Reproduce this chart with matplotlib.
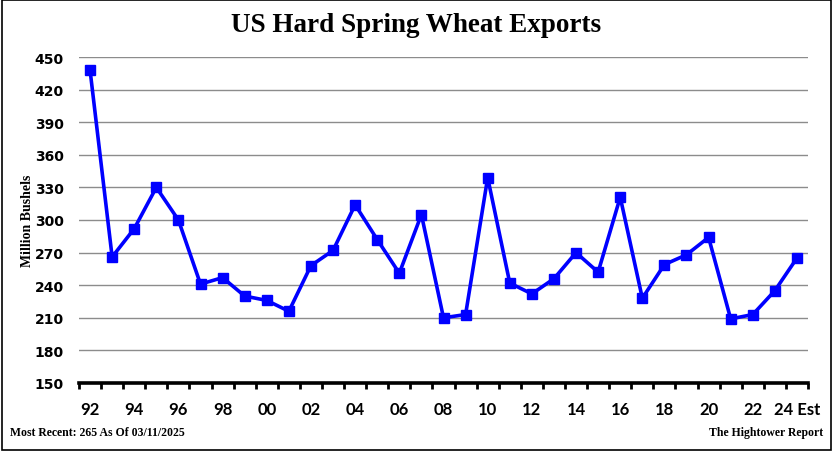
import matplotlib
matplotlib.use("Agg")
import matplotlib.pyplot as plt
from matplotlib.patches import Rectangle
from matplotlib.ticker import FixedLocator

# marketing years 1992 .. 2024 (2024 estimate)
years = ['92', '93', '94', '95', '96', '97', '98', '99', '00', '01', '02',
         '03', '04', '05', '06', '07', '08', '09', '10', '11', '12', '13',
         '14', '15', '16', '17', '18', '19', '20', '21', '22', '23', '24 Est']
exports = [438, 266, 292, 330, 300, 241, 247, 230, 226, 216, 258,
           272, 314, 282, 251, 305, 210, 213, 339, 242, 232, 246,
           270, 252, 321, 228, 259, 268, 284, 209, 213, 235, 265]
yticks = [150, 180, 210, 240, 270, 300, 330, 360, 390, 420, 450]

fig = plt.figure(figsize=(8.33, 4.52), dpi=100)
ax = fig.add_axes([79 / 833, 68 / 452, 729 / 833, 326 / 452])

x = list(range(len(years)))
ax.plot(x, exports, color='#0000FF', lw=2.6, marker='s', ms=6.5,
        markeredgecolor='#0000FF', zorder=3, clip_on=False)

ax.set_xlim(-0.5, len(years) - 0.5)
ax.set_ylim(150, 450)
ax.set_yticks(yticks)
ax.yaxis.grid(True, color='#8c8c8c', lw=1.0)
ax.set_axisbelow(True)

for s in ['top', 'right', 'left']:
    ax.spines[s].set_visible(False)
ax.spines['bottom'].set_linewidth(2.6)
ax.spines['bottom'].set_color('black')

ax.set_xticks(x[::2])
ax.set_xticklabels([years[i] for i in x[::2]], fontsize=12,
                   fontweight='bold', family='Lato')
ax.xaxis.set_minor_locator(FixedLocator([i - 0.5 for i in range(len(years) + 1)]))
ax.tick_params(axis='x', which='major', length=0, pad=13)
ax.tick_params(axis='x', which='minor', length=4, width=2, direction='out', color='black')
ax.tick_params(axis='y', length=0, pad=11, labelsize=10)
for lab in ax.get_yticklabels():
    lab.set_fontweight('bold')
    lab.set_family('DejaVu Sans')

ax.set_ylabel('Million Bushels', family='Liberation Serif', fontweight='bold',
              fontsize=10)
ax.yaxis.set_label_coords(-45 / 729, 0.5)

fig.text(0.5, 1 - 25 / 452, 'US Hard Spring Wheat Exports', ha='center', va='center',
         family='Liberation Serif', fontweight='bold', fontsize=19.5)
fig.text(10 / 833, 1 - 433 / 452, 'Most Recent: 265 As Of 03/11/2025', ha='left',
         va='center', family='Liberation Serif', fontweight='bold', fontsize=8.5)
fig.text(823 / 833, 1 - 433 / 452, 'The Hightower Report', ha='right',
         va='center', family='Liberation Serif', fontweight='bold', fontsize=8.5)

fig.patches.append(Rectangle((0.002, 0.002), 0.995, 0.995, transform=fig.transFigure,
                             fill=False, edgecolor='black', lw=1.2))

fig.savefig('out.png', dpi=100)
